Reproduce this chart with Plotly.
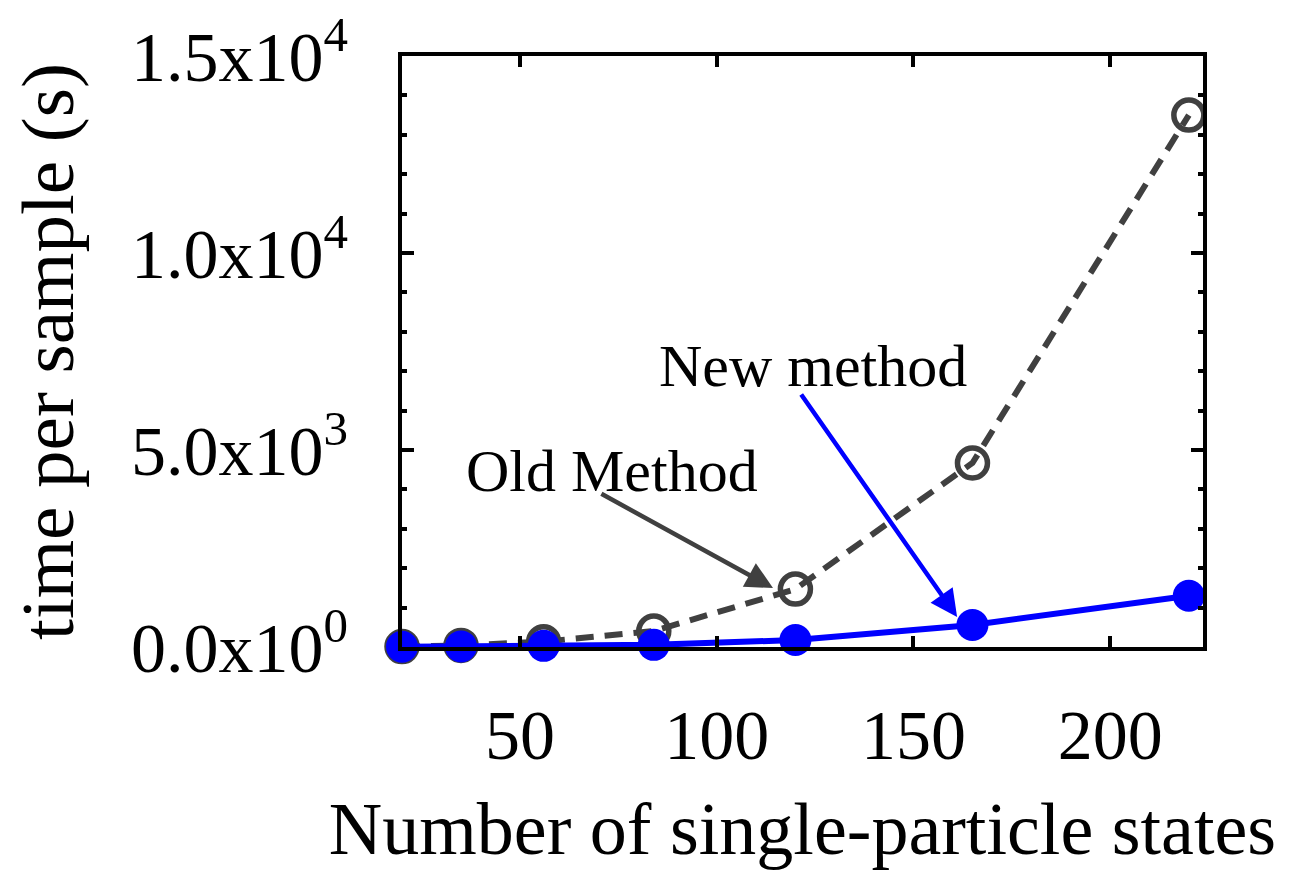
import plotly.graph_objects as go

# Data
states = [20, 35, 56, 84, 120, 165, 220]
old_method = [10, 40, 135, 405, 1470, 4670, 13500]
new_method = [5, 15, 30, 55, 178, 560, 1300]

y_tickvals = [0, 5000, 10000, 15000]
y_ticktext = ["0.0x10<sup>0</sup>", "5.0x10<sup>3</sup>", "1.0x10<sup>4</sup>", "1.5x10<sup>4</sup>"]
x_tickvals = [50, 100, 150, 200]

FONT = "Liberation Serif, Times New Roman, serif"
GRAY = "#404040"
BLUE = "#0000ff"

fig = go.Figure()
fig.add_trace(go.Scatter(
    x=states, y=old_method, mode="lines+markers", name="Old Method",
    line=dict(color=GRAY, width=6, dash="18px,11px"),
    marker=dict(symbol="circle", size=30, color="rgba(255,255,255,0)", line=dict(width=5.5, color=GRAY)),
    cliponaxis=False,
))
fig.add_trace(go.Scatter(
    x=states, y=new_method, mode="lines+markers", name="New method",
    line=dict(color=BLUE, width=6),
    marker=dict(symbol="circle", size=32, color=BLUE),
    cliponaxis=False,
))

# annotations: labels and arrows
fig.add_annotation(x=124.5, y=7130, text="New method", showarrow=False,
                   font=dict(family=FONT, size=60, color="black"))
fig.add_annotation(x=73.4, y=4470, text="Old Method", showarrow=False,
                   font=dict(family=FONT, size=60, color="black"))
fig.add_annotation(x=161.1, y=761, ax=121.2, ay=6447, axref="x", ayref="y",
                   text="", showarrow=True, arrowhead=2, arrowsize=1.2, arrowwidth=4.5,
                   arrowcolor=BLUE, standoff=0)
fig.add_annotation(x=114.3, y=1497, ax=70.3, ay=3909, axref="x", ayref="y",
                   text="", showarrow=True, arrowhead=2, arrowsize=1.2, arrowwidth=4.5,
                   arrowcolor=GRAY, standoff=0)

fig.update_layout(
    width=1312, height=876,
    margin=dict(l=402, r=109, t=56, b=229, autoexpand=False),
    plot_bgcolor="white", paper_bgcolor="white",
    showlegend=False,
    font=dict(family=FONT, size=70, color="black"),
    xaxis=dict(
        range=[20, 223.6], tickvals=x_tickvals,
        ticks="inside", ticklen=11, tickwidth=3.5, tickcolor="black",
        showline=True, linewidth=4, linecolor="black", mirror="allticks",
        showgrid=False, zeroline=False, automargin=False,
        tickfont=dict(family=FONT, size=70),
        ticklabelstandoff=24,
        title=dict(text="Number of single-particle states", font=dict(family=FONT, size=74), standoff=30),
    ),
    yaxis=dict(
        range=[0, 15000], tickvals=y_tickvals, ticktext=y_ticktext,
        ticks="inside", ticklen=12, tickwidth=3.5, tickcolor="black",
        minor=dict(dtick=1000, ticks="inside", ticklen=5, tickwidth=3.5, tickcolor="black"),
        showline=True, linewidth=4, linecolor="black", mirror="allticks",
        showgrid=False, zeroline=False, automargin=False,
        tickfont=dict(family=FONT, size=70),
        ticklabelstandoff=36,
        title=dict(text="time per sample (s)", font=dict(family=FONT, size=75), standoff=34),
    ),
)

fig.write_html("out.html")
